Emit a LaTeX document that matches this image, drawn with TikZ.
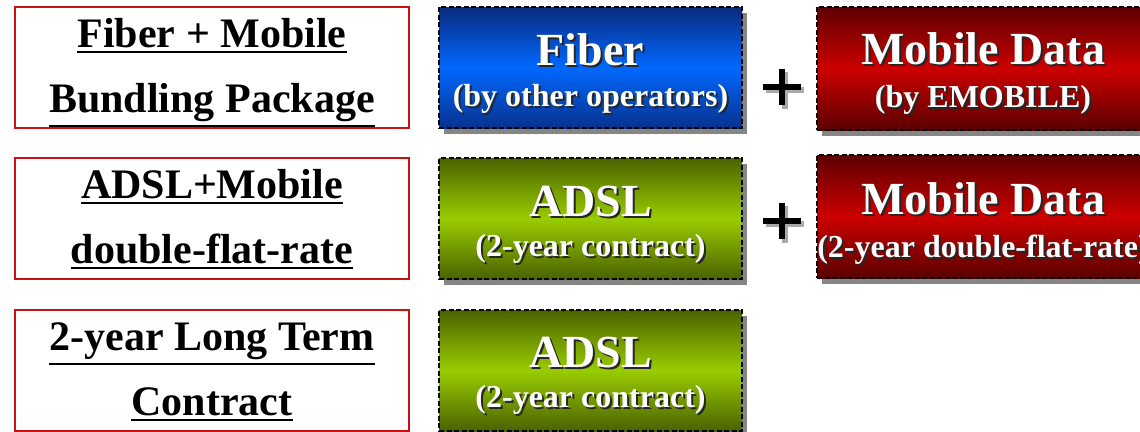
\documentclass[tikz,border=0pt]{standalone}
\usepackage{fontspec}
\setmainfont{Liberation Serif}
\usetikzlibrary{calc}
\definecolor{boxred}{HTML}{CC1111}
\definecolor{bluetop}{HTML}{0A2B7E}
\definecolor{bluemid}{HTML}{0068FF}
\definecolor{bluebot}{HTML}{08328F}
\definecolor{greentop}{HTML}{4A6200}
\definecolor{greenmid}{HTML}{99CC00}
\definecolor{greenbot}{HTML}{4A6200}
\definecolor{redtop}{HTML}{5E0000}
\definecolor{redmid}{HTML}{CC0000}
\definecolor{redbot}{HTML}{5A0000}
\definecolor{shadowgray}{HTML}{858585}
\tikzset{
  leftbox/.style={draw=boxred, line width=1.6pt, fill=white, minimum width=394pt, minimum height=121pt, inner sep=0pt},
  prodbox/.style={draw=black, line width=1.3pt, dash pattern=on 5pt off 2.5pt, inner sep=0pt, minimum height=121pt},
  bluebox/.style={prodbox, minimum width=303pt, top color=bluetop, bottom color=bluebot, middle color=bluemid},
  greenbox/.style={prodbox, minimum width=303pt, top color=greentop, bottom color=greenbot, middle color=greenmid},
  redbox/.style={prodbox, minimum width=332pt, minimum height=123pt, top color=redtop, bottom color=redbot, middle color=redmid},
  boxshadow/.style={fill=shadowgray, draw=none, inner sep=0pt},
  lefttext/.style={anchor=base, inner sep=0pt, font=\fontsize{42}{50}\selectfont\bfseries},
  uline/.style={line width=2.3pt, black},
  bigtext/.style={anchor=base, inner sep=0pt, font=\fontsize{46}{52}\selectfont\bfseries},
  subtext/.style={anchor=base, inner sep=0pt, font=\fontsize{32}{36}\selectfont\bfseries},
  plusbar/.style={line width=5.5pt},
}
\newcommand\shtxt[4]{%
  \node[#1, text=black!85] (#2s) at ($#3+(2,2)$) {#4};
  \node[#1, text=white] (#2) at #3 {#4};}
\newcommand\ultxt[3]{%
  \node[lefttext] (#1) at #2 {#3};
  \draw[uline] ($(#1.south west)+(0,4)$) -- ($(#1.south east)+(0,4)$);}
\begin{document}
\begin{tikzpicture}[x=1pt,y=-1pt]
\useasboundingbox (0,0) rectangle (1140,431);
\clip (0,0) rectangle (1140,431);
% left boxes
\node[leftbox] (L1) at (212,67.5) {};
\node[leftbox] (L2) at (212,218.5) {};
\node[leftbox] (L3) at (212,370.5) {};
\ultxt{L1a}{($(L1.north)+(0,41)$)}{Fiber + Mobile}
\ultxt{L1b}{($(L1.north)+(0,106)$)}{Bundling Package}
\ultxt{L2a}{($(L2.north)+(0,41)$)}{ADSL+Mobile}
\ultxt{L2b}{($(L2.north)+(0,106)$)}{double-flat-rate}
\ultxt{L3a}{($(L3.north)+(0,41)$)}{2-year Long Term}
\ultxt{L3b}{($(L3.north)+(0,106)$)}{Contract}
% shadows
\node[boxshadow, minimum width=303pt, minimum height=121pt] (S1) at (595.5,73.5) {};
\node[boxshadow, minimum width=303pt, minimum height=121pt] (S2) at (595.5,224.5) {};
\node[boxshadow, minimum width=303pt, minimum height=121pt] (S3) at (595.5,376.5) {};
\node[boxshadow, minimum width=332pt, minimum height=123pt] (S4) at (988,74.5) {};
\node[boxshadow, minimum width=332pt, minimum height=123pt] (S5) at (988,222.5) {};
% product boxes
\node[bluebox] (M1) at (590.5,67.5) {};
\node[greenbox] (M2) at (590.5,218.5) {};
\node[greenbox] (M3) at (590.5,370.5) {};
\node[redbox] (R1) at (983,68.5) {};
\node[redbox] (R2) at (983,216.5) {};
% texts
\shtxt{bigtext}{M1a}{($(M1.north)+(0,59)$)}{Fiber}
\shtxt{subtext}{M1b}{($(M1.north)+(0,100)$)}{(by other operators)}
\shtxt{bigtext}{M2a}{($(M2.north)+(0,59)$)}{ADSL}
\shtxt{subtext}{M2b}{($(M2.north)+(0,99)$)}{(2-year contract)}
\shtxt{bigtext}{M3a}{($(M3.north)+(0,58)$)}{ADSL}
\shtxt{subtext}{M3b}{($(M3.north)+(0,98)$)}{(2-year contract)}
\shtxt{bigtext}{R1a}{($(R1.north)+(0,58)$)}{Mobile Data}
\shtxt{subtext}{R1b}{($(R1.north)+(0,101)$)}{(by EMOBILE)}
\shtxt{bigtext}{R2a}{($(R2.north)+(0,60)$)}{Mobile Data}
\shtxt{subtext}{R2b}{($(R2.north)+(0,103)$)}{(2-year double-flat-rate)}
% plus signs
\coordinate (P1) at (782,87);
\coordinate (P2) at (782,221);
\foreach \p in {P1,P2}{
  \draw[plusbar, shadowgray!70] ($(\p)+(-16,3)$) -- ($(\p)+(22,3)$);
  \draw[plusbar, shadowgray!70] ($(\p)+(3,-15)$) -- ($(\p)+(3,22)$);
  \draw[plusbar, black] ($(\p)+(-19,0)$) -- ($(\p)+(19,0)$);
  \draw[plusbar, black] ($(\p)+(0,-18)$) -- ($(\p)+(0,18)$);
}
\end{tikzpicture}
\end{document}
